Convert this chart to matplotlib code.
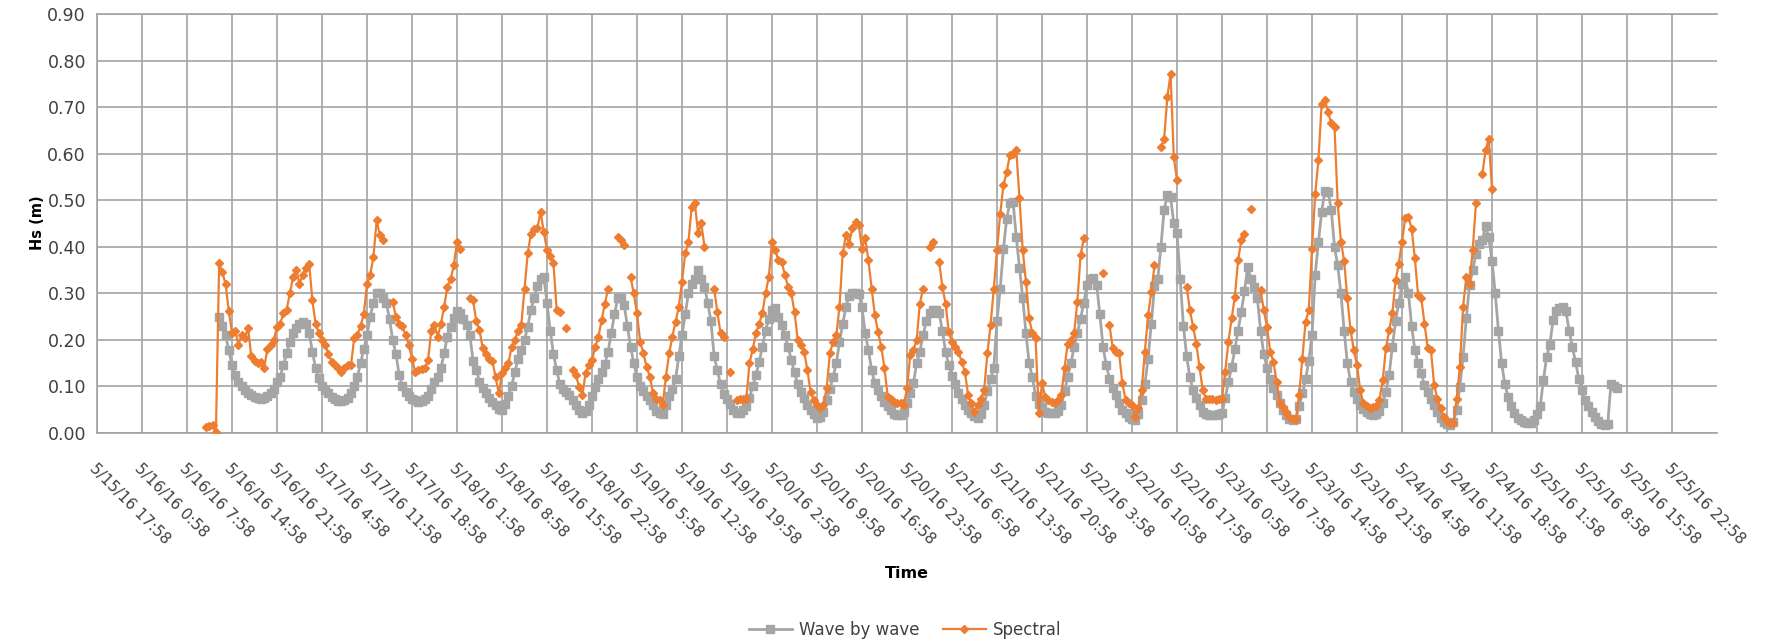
import numpy as np
import pandas as pd
import matplotlib
matplotlib.use("Agg")
import matplotlib.pyplot as plt

plt.rcParams['font.family'] = ['DejaVu Sans']

# ---- data -------------------------------------------------------------
tick_labels = [
    "5/15/16 17:58", "5/16/16 0:58", "5/16/16 7:58", "5/16/16 14:58", "5/16/16 21:58",
    "5/17/16 4:58", "5/17/16 11:58", "5/17/16 18:58", "5/18/16 1:58", "5/18/16 8:58",
    "5/18/16 15:58", "5/18/16 22:58", "5/19/16 5:58", "5/19/16 12:58", "5/19/16 19:58",
    "5/20/16 2:58", "5/20/16 9:58", "5/20/16 16:58", "5/20/16 23:58", "5/21/16 6:58",
    "5/21/16 13:58", "5/21/16 20:58", "5/22/16 3:58", "5/22/16 10:58", "5/22/16 17:58",
    "5/23/16 0:58", "5/23/16 7:58", "5/23/16 14:58", "5/23/16 21:58", "5/24/16 4:58",
    "5/24/16 11:58", "5/24/16 18:58", "5/25/16 1:58", "5/25/16 8:58", "5/25/16 15:58",
    "5/25/16 22:58",
]
axis_start = "2016-05-15 17:58"
tick_step_hours = 7

# Wave-by-wave Hs (m), half-hourly from 5/16/16 12:58
wave_start = "2016-05-16 12:58"
wave_hs = [
    0.25, 0.23, 0.21, 0.178, 0.145, 0.125, 0.11, 0.10, 0.092, 0.086,
    0.081, 0.078, 0.076, 0.074, 0.076, 0.08, 0.085, 0.095, 0.11, 0.121,
    0.146, 0.171, 0.195, 0.215, 0.226, 0.235, 0.239, 0.235, 0.215, 0.175,
    0.14, 0.118, 0.102, 0.092, 0.085, 0.078, 0.072, 0.069, 0.068, 0.07,
    0.075, 0.085, 0.10, 0.12, 0.15, 0.18, 0.21, 0.25, 0.28, 0.30,
    0.30, 0.29, 0.28, 0.245, 0.20, 0.17, 0.125, 0.10, 0.088, 0.08,
    0.074, 0.07, 0.066, 0.068, 0.072, 0.08, 0.095, 0.11, 0.121, 0.14,
    0.171, 0.207, 0.228, 0.248, 0.262, 0.258, 0.245, 0.232, 0.21, 0.155,
    0.135, 0.11, 0.096, 0.085, 0.075, 0.067, 0.06, 0.052, 0.05, 0.063,
    0.08, 0.102, 0.13, 0.16, 0.178, 0.20, 0.228, 0.264, 0.29, 0.315,
    0.33, 0.335, 0.28, 0.22, 0.17, 0.135, 0.105, 0.095, 0.088, 0.082,
    0.07, 0.06, 0.05, 0.043, 0.048, 0.06, 0.08, 0.098, 0.115, 0.13,
    0.148, 0.175, 0.215, 0.255, 0.29, 0.29, 0.275, 0.23, 0.185, 0.15,
    0.12, 0.10, 0.09, 0.08, 0.07, 0.06, 0.048, 0.042, 0.04, 0.06,
    0.08, 0.095, 0.115, 0.165, 0.21, 0.255, 0.30, 0.32, 0.33, 0.35,
    0.33, 0.314, 0.28, 0.24, 0.165, 0.135, 0.105, 0.083, 0.074, 0.062,
    0.05, 0.043, 0.044, 0.049, 0.058, 0.075, 0.10, 0.125, 0.152, 0.185,
    0.22, 0.245, 0.265, 0.268, 0.25, 0.232, 0.21, 0.185, 0.157, 0.13,
    0.105, 0.088, 0.075, 0.06, 0.05, 0.04, 0.033, 0.035, 0.045, 0.07,
    0.095, 0.12, 0.15, 0.195, 0.235, 0.27, 0.295, 0.30, 0.30, 0.298,
    0.27, 0.214, 0.178, 0.135, 0.107, 0.093, 0.08, 0.066, 0.057, 0.049,
    0.04, 0.038, 0.039, 0.045, 0.064, 0.085, 0.107, 0.15, 0.175, 0.21,
    0.24, 0.258, 0.264, 0.264, 0.258, 0.22, 0.175, 0.145, 0.122, 0.105,
    0.085, 0.073, 0.06, 0.05, 0.043, 0.036, 0.032, 0.04, 0.06, 0.09,
    0.115, 0.14, 0.24, 0.31, 0.395, 0.46, 0.495, 0.497, 0.42, 0.355,
    0.29, 0.215, 0.15, 0.12, 0.08, 0.063, 0.055, 0.046, 0.043, 0.042,
    0.042, 0.048, 0.06, 0.09, 0.12, 0.15, 0.185, 0.215, 0.245, 0.28,
    0.318, 0.33, 0.333, 0.318, 0.255, 0.185, 0.145, 0.117, 0.097, 0.082,
    0.065, 0.05, 0.042, 0.035, 0.03, 0.028, 0.04, 0.07, 0.105, 0.16,
    0.235, 0.315, 0.33, 0.40, 0.48, 0.512, 0.507, 0.45, 0.43, 0.33,
    0.23, 0.165, 0.12, 0.092, 0.075, 0.06, 0.045, 0.04, 0.039, 0.039,
    0.039, 0.04, 0.042, 0.075, 0.11, 0.142, 0.18, 0.22, 0.26, 0.305,
    0.357, 0.33, 0.314, 0.29, 0.22, 0.17, 0.14, 0.115, 0.097, 0.082,
    0.065, 0.05, 0.039, 0.03, 0.028, 0.031, 0.057, 0.085, 0.115, 0.155,
    0.21, 0.34, 0.41, 0.475, 0.52, 0.518, 0.479, 0.40, 0.36, 0.30,
    0.22, 0.15, 0.11, 0.088, 0.073, 0.06, 0.052, 0.045, 0.04, 0.039,
    0.04, 0.048, 0.065, 0.088, 0.125, 0.185, 0.24, 0.28, 0.32, 0.335,
    0.30, 0.23, 0.178, 0.15, 0.128, 0.103, 0.089, 0.073, 0.06, 0.045,
    0.032, 0.024, 0.019, 0.018, 0.024, 0.049, 0.099, 0.164, 0.246, 0.318,
    0.35, 0.385, 0.405, 0.415, 0.445, 0.42, 0.37, 0.30, 0.22, 0.15,
    0.105, 0.078, 0.057, 0.042, 0.033, 0.027, 0.024, 0.022, 0.022, 0.028,
    0.04, 0.057, 0.114, 0.164, 0.19, 0.243, 0.262, 0.268, 0.27, 0.262,
    0.22, 0.185, 0.152, 0.117, 0.092, 0.071, 0.058, 0.045, 0.035, 0.025,
    0.02, 0.017, 0.02, 0.105, 0.10, 0.096,
]

# Spectral Hs (m), half-hourly from 5/16/16 10:58 (None = no record)
spectral_start = "2016-05-16 10:58"
spectral_hs = [
    0.012, 0.015, 0.018, 0.002, 0.365, 0.345, 0.32, 0.262, 0.215, 0.22,
    0.19, 0.21, 0.205, 0.225, 0.165, 0.155, 0.15, 0.153, 0.14, 0.18,
    0.19, 0.20, 0.228, 0.235, 0.257, 0.265, 0.30, 0.335, 0.35, 0.321,
    0.34, 0.355, 0.364, 0.285, 0.235, 0.215, 0.20, 0.19, 0.17, 0.153,
    0.146, 0.14, 0.132, 0.14, 0.146, 0.145, 0.203, 0.21, 0.23, 0.255,
    0.32, 0.34, 0.378, 0.457, 0.425, 0.414, None, None, 0.282, 0.25,
    0.235, 0.23, 0.21, 0.19, 0.16, 0.132, 0.135, 0.137, 0.14, 0.157,
    0.22, 0.232, 0.207, 0.235, 0.271, 0.314, 0.33, 0.36, 0.41, 0.396,
    None, None, 0.289, 0.285, 0.24, 0.221, 0.182, 0.17, 0.16, 0.155,
    0.12, 0.085, 0.128, 0.139, 0.15, 0.185, 0.20, 0.22, 0.232, 0.31,
    0.386, 0.428, 0.439, 0.44, 0.475, 0.432, 0.393, 0.38, 0.365, 0.265,
    0.26, None, 0.225, None, 0.135, 0.124, 0.099, 0.082, 0.128, 0.146,
    0.157, 0.185, 0.207, 0.242, 0.278, 0.31, None, None, 0.421, 0.414,
    0.403, None, 0.335, 0.30, 0.257, 0.196, 0.171, 0.142, 0.121, 0.085,
    0.074, 0.07, 0.06, 0.121, 0.171, 0.207, 0.239, 0.271, 0.325, 0.386,
    0.41, 0.486, 0.493, 0.43, 0.45, 0.40, None, None, 0.31, 0.26,
    0.214, 0.207, None, 0.132, None, 0.071, 0.074, 0.074, 0.074, 0.15,
    0.18, 0.214, 0.235, 0.257, 0.30, 0.335, 0.41, 0.393, 0.371, 0.368,
    0.34, 0.314, 0.30, 0.26, 0.20, 0.19, 0.175, 0.135, 0.089, 0.07,
    0.06, 0.053, 0.06, 0.096, 0.171, 0.196, 0.21, 0.271, 0.386, 0.425,
    0.407, 0.44, 0.454, 0.446, 0.396, 0.418, 0.371, 0.31, 0.253, 0.217,
    0.185, 0.139, 0.078, 0.074, 0.067, 0.065, 0.064, 0.06, 0.096, 0.167,
    0.178, 0.20, 0.278, 0.31, None, 0.40, 0.41, None, 0.368, 0.314,
    0.278, 0.217, 0.196, 0.185, 0.175, 0.153, 0.132, 0.082, 0.064, 0.046,
    0.06, 0.074, 0.092, 0.171, 0.232, 0.31, 0.393, 0.471, 0.532, 0.56,
    0.597, 0.60, 0.607, 0.504, 0.393, 0.325, 0.246, 0.214, 0.203, 0.042,
    0.107, 0.078, 0.07, 0.067, 0.064, 0.07, 0.082, 0.139, 0.192, 0.20,
    0.215, 0.282, 0.382, 0.418, None, None, None, None, None, 0.343,
    None, 0.232, 0.182, 0.175, 0.171, 0.107, 0.071, 0.065, 0.06, 0.035,
    0.053, 0.092, 0.175, 0.253, 0.303, 0.36, None, 0.614, 0.632, 0.722,
    0.772, 0.593, 0.543, None, None, 0.314, 0.264, 0.228, 0.192, 0.142,
    0.092, 0.074, 0.074, 0.074, 0.071, 0.072, 0.074, 0.132, 0.196, 0.246,
    0.293, 0.371, 0.414, 0.428, None, 0.482, None, None, 0.307, 0.264,
    0.228, 0.175, 0.153, 0.11, 0.064, 0.055, 0.046, 0.035, 0.031, 0.03,
    0.082, 0.16, 0.239, 0.264, 0.396, 0.514, 0.586, 0.707, 0.715, 0.69,
    0.665, 0.658, 0.493, 0.411, 0.37, 0.289, 0.221, 0.178, 0.146, 0.092,
    0.064, 0.057, 0.053, 0.055, 0.057, 0.071, 0.114, 0.182, 0.221, 0.257,
    0.328, 0.364, 0.411, 0.461, 0.464, 0.439, 0.375, 0.296, 0.289, 0.235,
    0.182, 0.178, 0.103, 0.074, 0.053, 0.035, 0.025, 0.021, 0.021, 0.074,
    0.142, 0.271, 0.335, 0.321, 0.393, 0.493, None, 0.557, 0.607, 0.632,
    0.525,
]

# ---- figure -----------------------------------------------------------
W, H = 1774, 644
fig = plt.figure(figsize=(W / 100, H / 100), dpi=100)
ax = fig.add_axes([97 / W, 1 - 433 / H, 1620 / W, 419 / H])

wave_t = pd.date_range(wave_start, periods=len(wave_hs), freq="30min")
spec_t = pd.date_range(spectral_start, periods=len(spectral_hs), freq="30min")
spec_vals = np.array([np.nan if v is None else v for v in spectral_hs], dtype=float)

GRAY = "#A5A5A5"
ORANGE = "#ED7D31"
GRID = "#A3A3A3"
TEXT = "#404040"

ax.plot(wave_t, wave_hs, color=GRAY, lw=2.0, marker="s", ms=5.8,
        mec=GRAY, mfc=GRAY, label="Wave by wave", zorder=3)
ax.plot(spec_t, spec_vals, color=ORANGE, lw=1.6, marker="D", ms=4.2,
        mec=ORANGE, mfc=ORANGE, label="Spectral", zorder=4)

# axis spans one tick step beyond the last labelled tick
t0 = pd.Timestamp(axis_start)
ticks = [t0 + pd.Timedelta(hours=tick_step_hours * i) for i in range(len(tick_labels))]
ax.set_xlim(t0, t0 + pd.Timedelta(hours=tick_step_hours * len(tick_labels)))
ax.set_ylim(0, 0.9)
yt = np.arange(0, 0.91, 0.1)
ax.set_yticks(yt)
ax.set_yticklabels([f"{v:.2f}" for v in yt], fontsize=12.5)
ax.set_xticks(ticks)
ax.set_xticklabels(tick_labels, rotation=-45, ha="left", va="top",
                   rotation_mode="anchor", fontsize=11)

ax.grid(True, color=GRID, lw=1.2, zorder=0)
ax.set_axisbelow(True)
ax.spines["right"].set_visible(False)
for side in ("left", "bottom", "top"):
    ax.spines[side].set_color(GRID)
    ax.spines[side].set_linewidth(1.2)
ax.tick_params(axis="both", length=0, colors=TEXT)
ax.tick_params(axis="x", pad=20)
ax.tick_params(axis="y", pad=8)

fig.text(37 / W, 1 - 223 / H, "Hs (m)", rotation=90, ha="center", va="center",
         fontsize=10.5, fontweight="bold", color="#000000")
fig.text(907 / W, 1 - 574 / H, "Time", ha="center", va="center",
         fontsize=11.5, fontweight="bold", color="#000000")

fig.legend(loc="center", bbox_to_anchor=(905 / W, 1 - 630 / H), ncol=2,
           frameon=False, fontsize=12, handlelength=2.6, columnspacing=1.4,
           handletextpad=0.4, labelcolor=TEXT)

fig.savefig("out.png", dpi=100)
